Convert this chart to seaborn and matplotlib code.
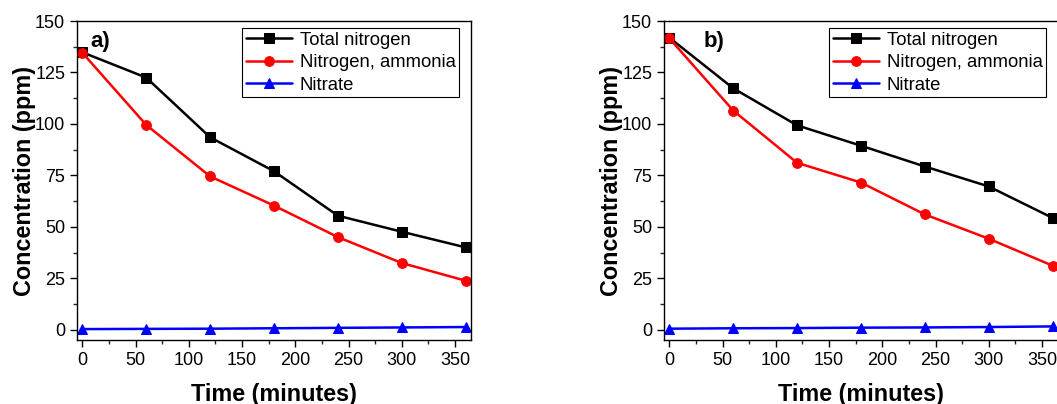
import numpy as np
import pandas as pd
import matplotlib
matplotlib.use("Agg")
import matplotlib.pyplot as plt
import seaborn as sns
from matplotlib.ticker import MultipleLocator

time_min = [0, 60, 120, 180, 240, 300, 360]
series_names = ["Total nitrogen", "Nitrogen, ammonia", "Nitrate"]

a_total = [134.8, 122.5, 93.5, 77.0, 55.4, 47.6, 40.0]
a_ammonia = [134.6, 99.5, 74.5, 60.3, 45.0, 32.4, 23.8]
a_nitrate = [0.3, 0.4, 0.5, 0.7, 0.9, 1.1, 1.3]

b_total = [141.9, 117.3, 99.3, 89.4, 79.3, 69.6, 54.3]
b_ammonia = [141.6, 106.5, 81.1, 71.5, 56.0, 44.2, 31.1]
b_nitrate = [0.5, 0.7, 0.8, 1.0, 1.1, 1.3, 1.6]

panel_labels = ["a)", "b)"]
label_x = [0.035, 0.10]

sns.set_theme(style="ticks")
plt.rcParams['font.family'] = ['Liberation Sans', 'DejaVu Sans']
plt.rcParams['text.color'] = 'black'
plt.rcParams['axes.labelcolor'] = 'black'

colors = ["black", "red", "blue"]
markers = ["s", "o", "^"]

fig = plt.figure(figsize=(10.57, 4.04), dpi=100)
W, H = 1057, 404
ax1 = fig.add_axes([77 / W, 1 - 340 / H, 394 / W, 319 / H])
ax2 = fig.add_axes([664 / W, 1 - 340 / H, 394 / W, 319 / H])

panels = [(ax1, [a_total, a_ammonia, a_nitrate]), (ax2, [b_total, b_ammonia, b_nitrate])]

for (ax, vals), lab, lx in zip(panels, panel_labels, label_x):
    rows = []
    for name, v in zip(series_names, vals):
        for t, y in zip(time_min, v):
            rows.append({"Time": t, "Conc": y, "Series": name})
    df = pd.DataFrame(rows)
    for name, c, m in zip(series_names, colors, markers):
        sns.lineplot(data=df[df["Series"] == name], x="Time", y="Conc", ax=ax,
                     color=c, marker=m, markersize=7, markeredgecolor=c,
                     linewidth=1.8, label=name)
    ax.set_xlim(-5, 365)
    ax.set_ylim(-5, 150)
    ax.xaxis.set_major_locator(MultipleLocator(50))
    ax.xaxis.set_minor_locator(MultipleLocator(25))
    ax.yaxis.set_major_locator(MultipleLocator(25))
    ax.yaxis.set_minor_locator(MultipleLocator(12.5))
    ax.tick_params(axis="both", which="major", direction="out", length=5, width=1,
                   labelsize=13, colors="black", top=False, right=False)
    ax.tick_params(axis="both", which="minor", direction="out", length=3, width=1,
                   top=False, right=False)
    for s in ax.spines.values():
        s.set_visible(True)
        s.set_color("black")
        s.set_linewidth(1.0)
    ax.set_xlabel("Time (minutes)", fontsize=16.8, fontweight="bold", labelpad=10)
    ax.set_ylabel("Concentration (ppm)", fontsize=16.8, fontweight="bold", labelpad=-1)
    ax.text(lx, 0.935, lab, transform=ax.transAxes, fontsize=16,
            fontweight="bold", va="center", ha="left")
    leg = ax.legend(loc="upper right", bbox_to_anchor=(0.97, 0.978), fontsize=13.3,
                    frameon=True, fancybox=False, edgecolor="black", framealpha=1,
                    borderpad=0.2, labelspacing=0.3, handlelength=2.5,
                    handletextpad=0.4, borderaxespad=0)
    leg.get_frame().set_linewidth(0.8)

fig.savefig("out.png", dpi=100)
